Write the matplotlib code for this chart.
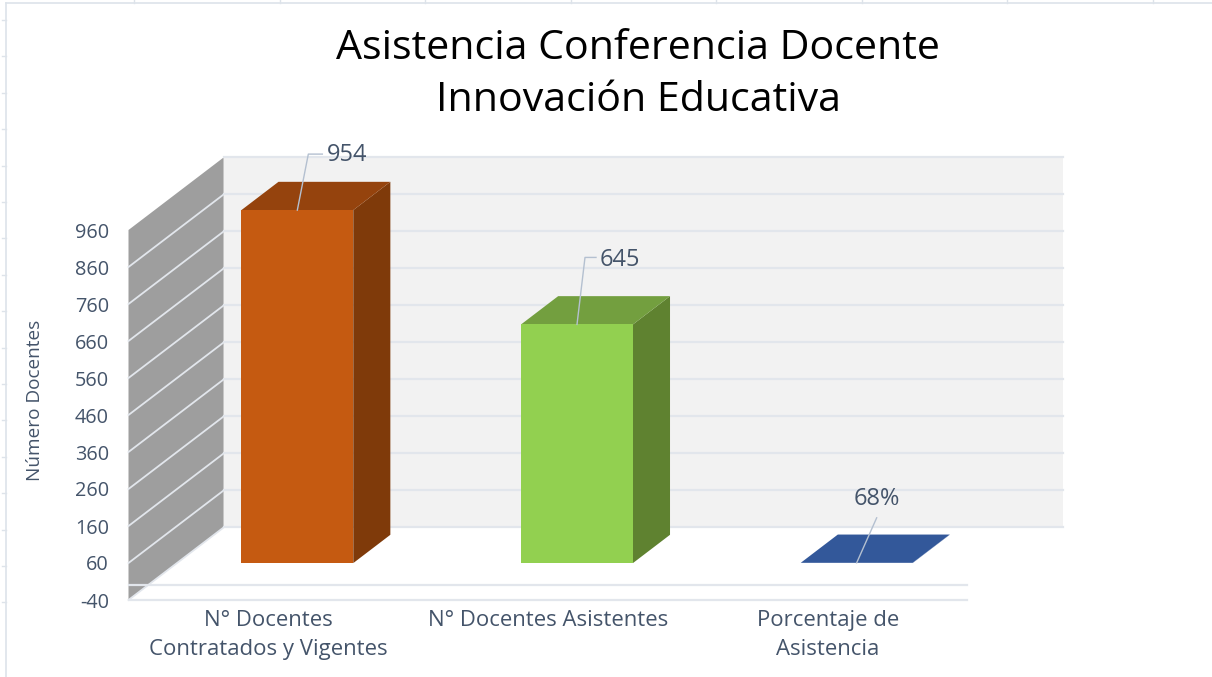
import matplotlib
matplotlib.use("Agg")
import matplotlib.pyplot as plt
from matplotlib.lines import Line2D
from matplotlib.patches import Polygon

categories = ["N° Docentes\nContratados y Vigentes", "N° Docentes Asistentes", "Porcentaje de\nAsistencia"]
values = [954, 645, 0.68]
value_labels = ["954", "645", "68%"]
y_ticks = [-40, 60, 160, 260, 360, 460, 560, 660, 760, 860, 960]
title = "Asistencia Conferencia Docente\nInnovación Educativa"
y_label = "Número Docentes"

W, H = 1212, 677
FONT = "Open Sans"
TEXT = "#44546a"
GRID = "#e2e6ec"

# bar colours: front, top, side
bar_colors = [
	("#c55a11", "#95430d", "#7f3a0a"),
	("#92d050", "#739f3f", "#5f8230"),
	("#33589a", "#33589a", "#33589a"),
]
# leader line from the bar, in pixels relative to its front top centre
leaders = [
	[(0, 0), (11, 56), (25, 56)],
	[(0, 0), (8, 67), (19, 67)],
	[(0, 0), (20, 45)],
]
label_offsets = [(30, 55), (23, 64), (20, 64)]

BAR_WIDTH = 0.4
DEPTH_X = 0.34  # category units between the front plane and the back wall
DEPTH_Y = 196.0  # value units between the front plane and the back wall
BAR_FRONT = 0.305
BAR_BACK = 0.695


def project(x, v, depth):
	return x + depth * DEPTH_X, v + depth * DEPTH_Y


def fig_box(left, top, right, bottom):
	return [left / W, 1 - bottom / H, (right - left) / W, (bottom - top) / H]


fig = plt.figure(figsize=(W / 100, H / 100), dpi=100, facecolor="white")

# front plane of the 3D box is the real axes
ax = fig.add_axes(fig_box(128.5, 230, 967.5, 600))
ax.set_xlim(-0.5, 2.5)
ax.set_ylim(-40, 960)
ax.patch.set_visible(False)
for spine in ax.spines.values():
	spine.set_visible(False)

x0, x1 = ax.get_xlim()
y0, y1 = ax.get_ylim()

# back wall
ax.add_patch(Polygon(
	[project(x0, y0, 1), project(x1, y0, 1), project(x1, y1, 1), project(x0, y1, 1)],
	facecolor="#f2f2f2", edgecolor="none", clip_on=False, zorder=1,
))
# side wall
ax.add_patch(Polygon(
	[project(x0, y0, 0), project(x0, y0, 1), project(x0, y1, 1), project(x0, y1, 0)],
	facecolor="#9e9e9e", edgecolor="none", clip_on=False, zorder=1,
))
for t in y_ticks:
	xs, ys = zip(project(x0, t, 1), project(x1, t, 1))
	ax.plot(xs, ys, color=GRID, lw=1.6, clip_on=False, zorder=2)
	if t != y1:
		xs, ys = zip(project(x0, t, 0), project(x0, t, 1))
		ax.plot(xs, ys, color=GRID, lw=1.3, clip_on=False, zorder=2)
for t in [y0, 0]:
	ax.plot([x0, x1], [t, t], color=GRID, lw=1.6, clip_on=False, zorder=2)

# bars
for i, (v, colors) in enumerate(zip(values, bar_colors)):
	left, right = i - BAR_WIDTH / 2, i + BAR_WIDTH / 2
	front, top, side = colors
	ax.add_patch(Polygon(
		[project(right, 0, BAR_FRONT), project(right, 0, BAR_BACK), project(right, v, BAR_BACK), project(right, v, BAR_FRONT)],
		facecolor=side, edgecolor="none", clip_on=False, zorder=3,
	))
	ax.add_patch(Polygon(
		[project(left, v, BAR_FRONT), project(right, v, BAR_FRONT), project(right, v, BAR_BACK), project(left, v, BAR_BACK)],
		facecolor=top, edgecolor="none", clip_on=False, zorder=3,
	))
	ax.add_patch(Polygon(
		[project(left, 0, BAR_FRONT), project(right, 0, BAR_FRONT), project(right, v, BAR_FRONT), project(left, v, BAR_FRONT)],
		facecolor=front, edgecolor="none", clip_on=False, zorder=4,
	))
	anchor = project(i, v, BAR_FRONT)
	px, py = ax.transData.transform(anchor)
	ax.add_line(Line2D(
		[px + dx for dx, dy in leaders[i]],
		[py + dy for dx, dy in leaders[i]],
		transform=None, color="#b4c0d0", lw=1.0, zorder=5, clip_on=False,
	))
	ax.annotate(
		value_labels[i], xy=anchor, xytext=label_offsets[i], textcoords="offset pixels",
		ha="left" if i < 2 else "center", va="center", fontsize=17, color=TEXT,
		family=FONT, zorder=6, annotation_clip=False,
	)

ax.set_xticks(range(len(categories)))
ax.set_xticklabels(categories, fontsize=15.9, color=TEXT, family=FONT, linespacing=1.5)
ax.set_yticks(y_ticks)
ax.set_yticklabels([str(t) for t in y_ticks], fontsize=14.3, color=TEXT, family=FONT)
ax.tick_params(axis="x", length=0, pad=7.5)
ax.tick_params(axis="y", length=0, pad=14)
ax.set_ylabel(y_label, fontsize=13.7, color=TEXT, family=FONT)
ax.yaxis.set_label_coords((44 - 129) / 839, (600 - 400) / 370)

fig.text(638 / W, 1 - 74.5 / H, title, ha="center", va="center", fontsize=29.6, color="black", family=FONT, linespacing=1.38)

# spreadsheet edge behind the chart
edge = "#dde3ea"
fig.add_artist(Line2D([6 / W, 6 / W], [0, 1 - 3 / H], color=edge, lw=1.2))
fig.add_artist(Line2D([6 / W, 1], [1 - 3 / H, 1 - 3 / H], color=edge, lw=1.2))
for k in range(8):
	x = (134 + 145.5 * k) / W
	fig.add_artist(Line2D([x, x], [1 - 3 / H, 1], color=edge, lw=1.0))
for k in range(17):
	y = 1 - (20 + 36.4 * k) / H
	fig.add_artist(Line2D([2 / W, 6 / W], [y, y], color=edge, lw=1.0))

fig.savefig("out.png", dpi=100)
plt.close(fig)
